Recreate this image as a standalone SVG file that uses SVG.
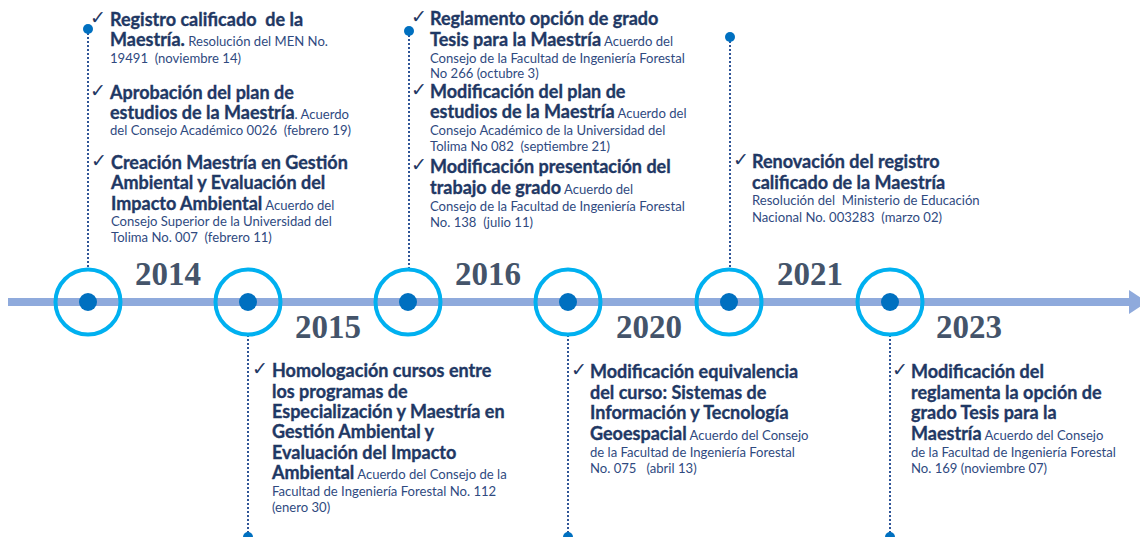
<svg xmlns="http://www.w3.org/2000/svg" width="1140" height="537" viewBox="0 0 1140 537">
<style>
text{white-space:pre}
.b{font-family:Lato,"Liberation Sans",sans-serif;font-weight:700;font-size:18px;fill:#1F3864;stroke:#1F3864;stroke-width:0.35px}
.s{font-family:Lato,"Liberation Sans",sans-serif;font-weight:400;font-size:13.1px;fill:#2F4A7F;stroke:none}
.ck{font-family:"DejaVu Sans",sans-serif;font-size:19px;fill:#1F3864}
.yr{font-family:"Liberation Serif",serif;font-weight:700;font-size:33px;fill:#44546A}
.ring{fill:none;stroke:#00B0F0;stroke-width:4}
.dot{fill:#0070C0}
.dash{stroke:#2F5597;stroke-width:2;stroke-dasharray:2 2;fill:none}
</style>
<rect width="1140" height="537" fill="#FFFFFF"/>
<g id="connectors">
<rect x="8" y="298" width="1124" height="8" fill="#8FAADC"/>
<polygon points="1129,290 1147,302 1129,314" fill="#8FAADC"/>
<line class="dash" x1="88" y1="29" x2="88" y2="269"/>
<line class="dash" x1="409" y1="31" x2="409" y2="269"/>
<line class="dash" x1="730" y1="37" x2="730" y2="269"/>
<line class="dash" x1="248" y1="335" x2="248" y2="537"/>
<line class="dash" x1="568" y1="335" x2="568" y2="537"/>
<line class="dash" x1="890" y1="335" x2="890" y2="537"/>
<circle class="dot" cx="88" cy="29" r="5"/>
<circle class="dot" cx="409" cy="31" r="5"/>
<circle class="dot" cx="730" cy="37" r="5"/>
<circle class="dot" cx="248" cy="537" r="5"/>
<circle class="dot" cx="568" cy="537" r="5"/>
<circle class="dot" cx="890" cy="537" r="5"/>
</g>
<g id="node-2014">
<circle class="ring" cx="88" cy="302" r="32.5"/>
<circle class="dot" cx="88" cy="302" r="9"/>
<text class="yr" x="135" y="285">2014</text>
</g>
<g id="node-2015">
<circle class="ring" cx="248" cy="302" r="32.5"/>
<circle class="dot" cx="248" cy="302" r="9"/>
<text class="yr" x="295" y="338">2015</text>
</g>
<g id="node-2016">
<circle class="ring" cx="408" cy="302" r="32.5"/>
<circle class="dot" cx="408" cy="302" r="9"/>
<text class="yr" x="455" y="285">2016</text>
</g>
<g id="node-2020">
<circle class="ring" cx="568" cy="302" r="32.5"/>
<circle class="dot" cx="568" cy="302" r="9"/>
<text class="yr" x="616" y="338">2020</text>
</g>
<g id="node-2021">
<circle class="ring" cx="729" cy="302" r="32.5"/>
<circle class="dot" cx="729" cy="302" r="9"/>
<text class="yr" x="777" y="285">2021</text>
</g>
<g id="node-2023">
<circle class="ring" cx="890" cy="302" r="32.5"/>
<circle class="dot" cx="890" cy="302" r="9"/>
<text class="yr" x="936" y="338">2023</text>
</g>
<g id="text-2014">
<text class="ck" x="90" y="24">✓</text>
<text class="b" x="110" y="26">Registro calificado  de la</text>
<text x="110" y="46"><tspan class="b">Maestría.</tspan><tspan class="s"> Resolución del MEN No.</tspan></text>
<text class="s" x="110" y="63">19491  (noviembre 14)</text>
<text class="ck" x="90" y="97">✓</text>
<text class="b" x="110" y="99">Aprobación del plan de</text>
<text x="110" y="119"><tspan class="b">estudios de la Maestría</tspan><tspan class="s">. Acuerdo</tspan></text>
<text class="s" x="110" y="135">del Consejo Académico 0026  (febrero 19)</text>
<text class="ck" x="91" y="167">✓</text>
<text class="b" x="111" y="169">Creación Maestría en Gestión</text>
<text class="b" x="111" y="189">Ambiental y Evaluación del</text>
<text x="111" y="210"><tspan class="b">Impacto Ambiental</tspan><tspan class="s"> Acuerdo del</tspan></text>
<text class="s" x="111" y="226">Consejo Superior de la Universidad del</text>
<text class="s" x="111" y="242">Tolima No. 007  (febrero 11)</text>
</g>
<g id="text-2016">
<text class="ck" x="411" y="23">✓</text>
<text class="b" x="430" y="25">Reglamento opción de grado</text>
<text x="430" y="46"><tspan class="b">Tesis para la Maestría</tspan><tspan class="s"> Acuerdo del</tspan></text>
<text class="s" x="430" y="63">Consejo de la Facultad de Ingeniería Forestal</text>
<text class="s" x="430" y="78">No 266 (octubre 3)</text>
<text class="ck" x="411" y="96">✓</text>
<text class="b" x="430" y="98">Modificación del plan de</text>
<text x="430" y="118"><tspan class="b">estudios de la Maestría</tspan><tspan class="s"> Acuerdo del</tspan></text>
<text class="s" x="430" y="135">Consejo Académico de la Universidad del</text>
<text class="s" x="430" y="151">Tolima No 082  (septiembre 21)</text>
<text class="ck" x="411" y="171">✓</text>
<text class="b" x="430" y="173">Modificación presentación del</text>
<text x="430" y="194"><tspan class="b">trabajo de grado</tspan><tspan class="s"> Acuerdo del</tspan></text>
<text class="s" x="430" y="211">Consejo de la Facultad de Ingeniería Forestal</text>
<text class="s" x="430" y="227">No. 138  (julio 11)</text>
</g>
<g id="text-2021">
<text class="ck" x="733" y="166">✓</text>
<text class="b" x="752" y="168">Renovación del registro</text>
<text class="b" x="752" y="189">calificado de la Maestría</text>
<text class="s" x="752" y="205">Resolución del  Ministerio de Educación</text>
<text class="s" x="752" y="222">Nacional No. 003283  (marzo 02)</text>
</g>
<g id="text-2015">
<text class="ck" x="252" y="375">✓</text>
<text class="b" x="272" y="377">Homologación cursos entre</text>
<text class="b" x="272" y="398">los programas de</text>
<text class="b" x="272" y="418">Especialización y Maestría en</text>
<text class="b" x="272" y="438">Gestión Ambiental y</text>
<text class="b" x="272" y="459">Evaluación del Impacto</text>
<text x="272" y="479"><tspan class="b">Ambiental</tspan><tspan class="s"> Acuerdo del Consejo de la</tspan></text>
<text class="s" x="272" y="496">Facultad de Ingeniería Forestal No. 112</text>
<text class="s" x="272" y="512">(enero 30)</text>
</g>
<g id="text-2020">
<text class="ck" x="571" y="376">✓</text>
<text class="b" x="590" y="378">Modificación equivalencia</text>
<text class="b" x="590" y="399">del curso: Sistemas de</text>
<text class="b" x="590" y="419">Información y Tecnología</text>
<text x="590" y="440"><tspan class="b">Geoespacial</tspan><tspan class="s"> Acuerdo del Consejo</tspan></text>
<text class="s" x="590" y="457">de la Facultad de Ingeniería Forestal</text>
<text class="s" x="590" y="473">No. 075   (abril 13)</text>
</g>
<g id="text-2023">
<text class="ck" x="892" y="376">✓</text>
<text class="b" x="911" y="378">Modificación del</text>
<text class="b" x="911" y="399">reglamenta la opción de</text>
<text class="b" x="911" y="419">grado Tesis para la</text>
<text x="911" y="440"><tspan class="b">Maestría</tspan><tspan class="s"> Acuerdo del Consejo</tspan></text>
<text class="s" x="911" y="457">de la Facultad de Ingeniería Forestal</text>
<text class="s" x="911" y="473">No. 169 (noviembre 07)</text>
</g>
</svg>
